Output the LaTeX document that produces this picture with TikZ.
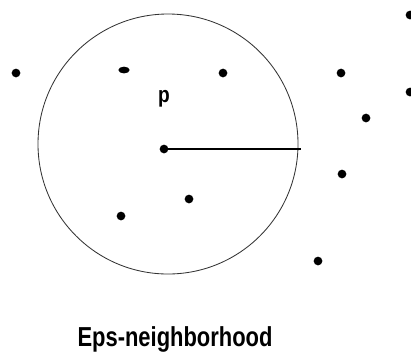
\documentclass[tikz,border=0pt]{standalone}
\usepackage{fontspec}
\setmainfont{Liberation Sans}
\usetikzlibrary{calc, shapes.geometric}

\begin{document}
\begin{tikzpicture}[
  x=0.025cm, y=-0.025cm,
  dot/.style={circle, fill=black, inner sep=0pt, minimum size=6.2pt},
  rim/.style={black!80, line width=0.6pt},
  lbl/.style={font=\bfseries\fontsize{16}{18}\selectfont, xscale=0.85},
]

% ══════════════════════════════════════════════════════
% Frame (pixel grid of the reference)
% ══════════════════════════════════════════════════════
\useasboundingbox (0,0) rectangle (411,351);

% Circle center and radius
\pgfmathsetmacro{\cx}{168}
\pgfmathsetmacro{\cy}{144}
\pgfmathsetmacro{\R}{130}

% ══════════════════════════════════════════════════════
% Eps-circle
% ══════════════════════════════════════════════════════
\draw[rim] (\cx, \cy) circle (\R);

% ══════════════════════════════════════════════════════
% Core point p and its radius
% ══════════════════════════════════════════════════════
\node[dot] (p) at (164,149) {};
\coordinate (edge) at (301,149);
\draw[black, line width=0.9pt] (p.center) -- (edge);

\node[lbl] (plbl) at (164,99) {p};

% ══════════════════════════════════════════════════════
% Other points
% ══════════════════════════════════════════════════════
\foreach \name/\px/\py in {%
  a/16/73,%
  c/223/73,%
  d/189/199,%
  e/121/216,%
  f/341/73,%
  g/366/118,%
  h/342/174,%
  i/318/261,%
  j/410/15,%
  k/410/92%
}{
  \node[dot] (\name) at (\px, \py) {};
}
% flattened dot
\node[ellipse, fill=black, inner sep=0pt, minimum width=8pt, minimum height=4.8pt]
  (b) at (124,70) {};

% ══════════════════════════════════════════════════════
% Caption
% ══════════════════════════════════════════════════════
\node[font=\bfseries\fontsize{19.5}{22}\selectfont, xscale=0.8] (title)
  at (175,339) {Eps-neighborhood};

\end{tikzpicture}
\end{document}
